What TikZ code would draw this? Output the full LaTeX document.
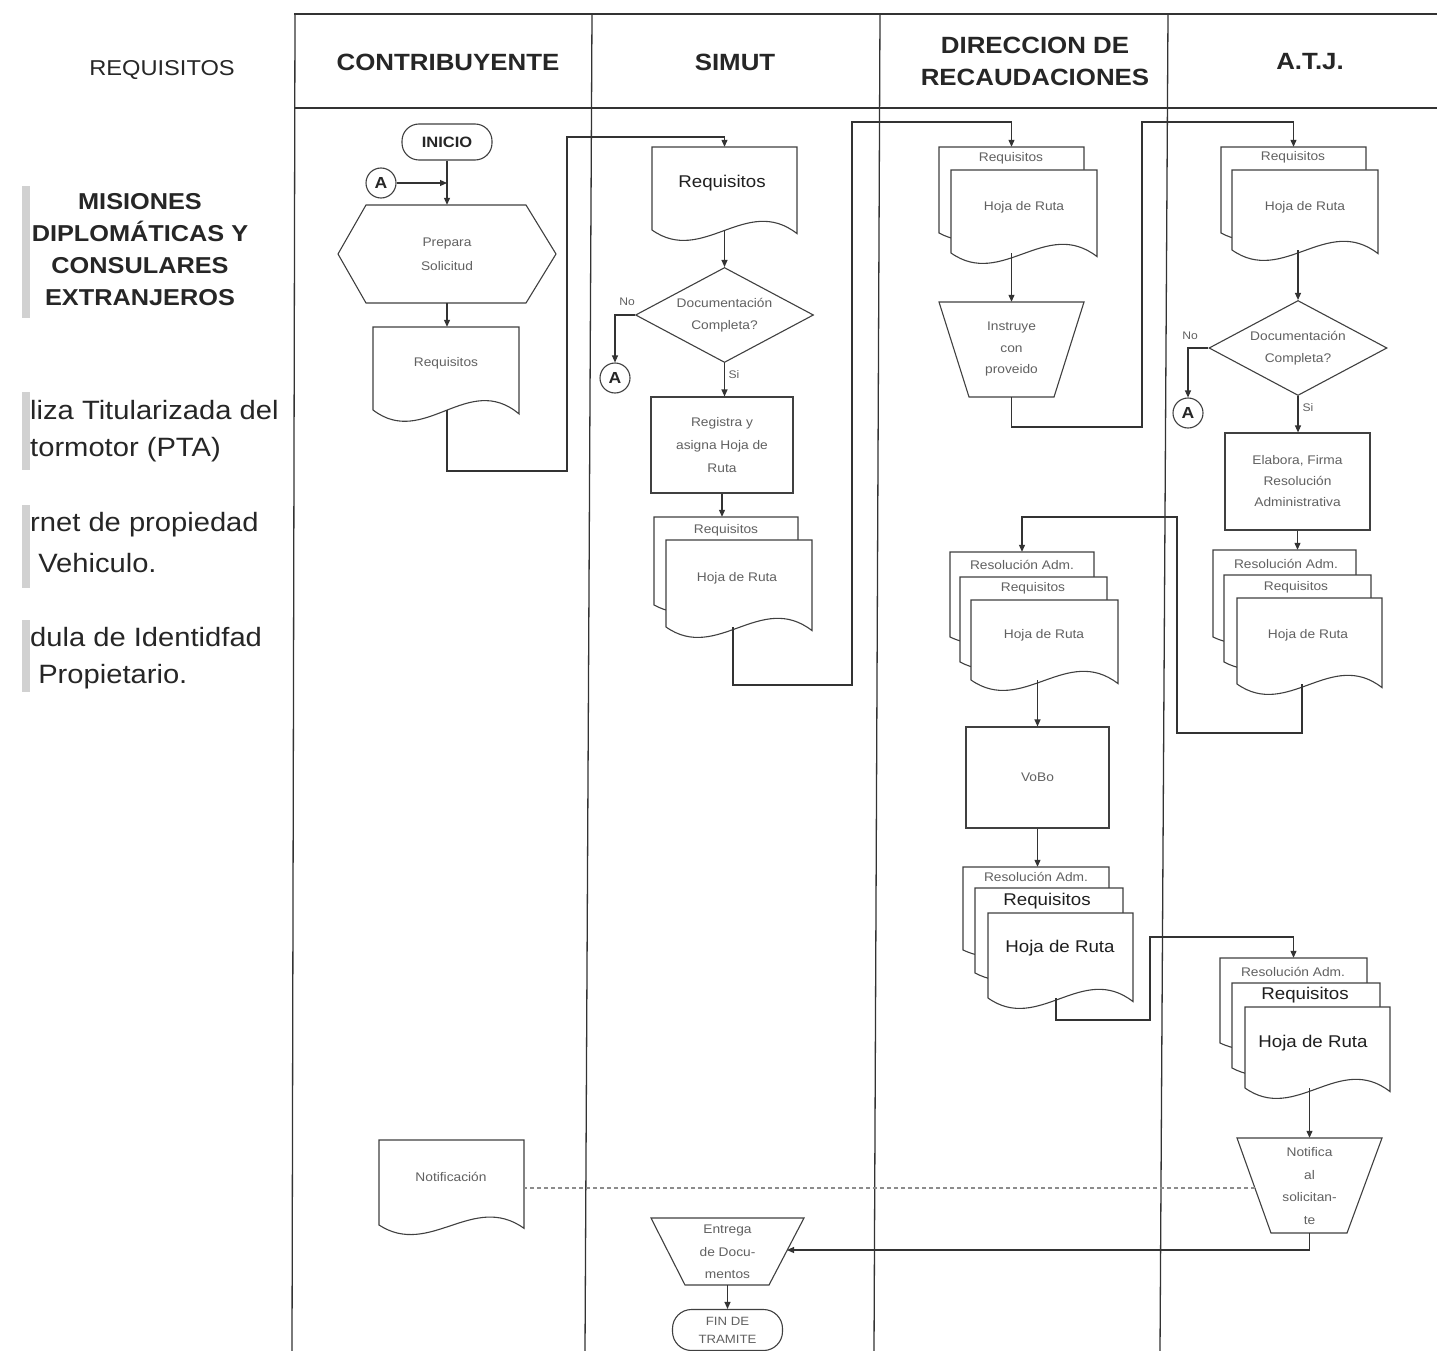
\documentclass[tikz,border=0pt]{standalone}
\usepackage{fontspec}
\setmainfont{Liberation Sans}[FakeStretch=1.1]
\usetikzlibrary{arrows.meta,fit,calc,shapes.geometric}

\tikzset{
  ln/.style={line width=1.1pt, draw=black!80},
  arr/.style={ln, -{Triangle[length=7pt,width=6pt]}},
  frm/.style={line width=1.3pt, draw=black!80},
  shp/.style={line width=1.1pt, draw=black!75, fill=white},
  dsh/.style={line width=1.1pt, draw=black!45, dash pattern=on 4pt off 3pt},
  sm/.style={font=\fontsize{12.5}{22}\selectfont, text=black!62, align=center, inner sep=0pt},
  md/.style={font=\fontsize{17}{20}\selectfont, text=black!88, inner sep=0pt},
  lbl/.style={font=\fontsize{11}{13}\selectfont, text=black!62, inner sep=0pt},
  hd/.style={font=\bfseries\fontsize{23.5}{32}\selectfont, text=black!85, align=center, inner sep=0pt},
  term/.style={shp, rounded corners=17pt, minimum width=90pt, minimum height=36pt, inner sep=0pt},
  conn/.style={shp, circle, minimum size=30pt, inner sep=0pt, font=\bfseries\fontsize{16}{18}\selectfont, text=black!85},
  dia/.style={shp, diamond, minimum width=178pt, minimum height=95pt, aspect=1.9, inner sep=0pt, sm},
  procbox/.style={shp, rectangle, minimum width=142pt, minimum height=96pt, inner sep=0pt, sm},
  lst/.style={font=\fontsize{26.5}{28}\selectfont, text=black!85, anchor=west, inner sep=0pt},
}

% document shape: name, x1, ytop, x2, ybottom(left), wave
\newcommand\docsh[6]{%
  \draw[shp] (#2,#3) -- (#4,#3) -- (#4,{#5+0.3*#6})
    .. controls ({#2+0.65*(#4-#2)},{#5-3*#6}) and ({#2+0.35*(#4-#2)},{#5+3*#6}) .. (#2,#5) -- cycle;
  \node[fit={(#2,#3) (#4,#5)}, inner sep=0pt] (#1) {};}

\begin{document}
\begin{tikzpicture}[x=1pt,y=-1pt]
\fill[white] (0,0) rectangle (1437,1351);
\useasboundingbox (0,0) rectangle (1437,1351);

% ---------- left column ----------
\fill[black!18] (22,186) rectangle (30,318);
\fill[black!18] (22,392) rectangle (30,470);
\fill[black!18] (22,505) rectangle (30,588);
\fill[black!18] (22,620) rectangle (30,692);
\node[font=\fontsize{21.5}{25}\selectfont, text=black!85, inner sep=0pt] (lreq) at (162,70) {REQUISITOS};
\node[font=\bfseries\fontsize{23}{32}\selectfont, text=black!85, align=center, inner sep=0pt] (lmis) at (140,250) {MISIONES\\DIPLOMÁTICAS Y\\CONSULARES\\EXTRANJEROS};
\node[lst] (l1) at (30,410) {liza Titularizada del};
\node[lst] (l2) at (30,450) {tormotor (PTA)};
\node[lst] (l3) at (30,525) {rnet de propiedad};
\node[lst] (l4) at (30,563) {\ Vehiculo.};
\node[lst] (l5) at (30,637) {dula de Identidfad};
\node[lst] (l6) at (30,677) {\ Propietario.};

% ---------- frame ----------
\draw[frm] (294,14) -- (1437,14);
\draw[frm] (294,108) -- (1437,108);
\draw[frm] (295,14) -- (292,1351);
\draw[frm] (592,14) -- (585,1351);
\draw[frm] (880,14) -- (874,1351);
\draw[frm] (1168,14) -- (1160,1351);
\node[hd] (hC) at (448,62) {CONTRIBUYENTE};
\node[hd] (hS) at (735,62) {SIMUT};
\node[hd] (hD) at (1035,61) {DIRECCION DE\\RECAUDACIONES};
\node[hd] (hA) at (1310,62) {A.T.J.};

% ---------- CONTRIBUYENTE ----------
\node[term, font=\bfseries\fontsize{15}{17}\selectfont, text=black!85] (inicio) at (447,142) {INICIO};
\node[conn] (cA1) at (381,183) {A};
\draw[shp] (338,254) -- (366,205) -- (526,205) -- (556,254) -- (526,303) -- (366,303) -- cycle;
\node[fit={(338,205) (556,303)}, inner sep=0pt] (hex) {};
\node[sm, font=\fontsize{12.5}{24}\selectfont] (thex) at (hex.center) {Prepara\\Solicitud};
\docsh{c1req}{373}{327}{519}{410}{13}
\node[sm] (tc1req) at (446,363) {Requisitos};
\draw[arr] (inicio.south) -- (hex.north);
\draw[arr] (cA1.east) -- (cA1.east -| hex.north);
\draw[arr] (hex.south) -- (hex.south |- c1req.north);

\docsh{notif}{379}{1140}{524}{1225}{11}
\node[sm] (tnotif) at (451,1177) {Notificación};

% ---------- SIMUT ----------
\docsh{s2req}{652}{147}{797}{230}{12}
\node[md] (ts2req) at (722,183) {Requisitos};
\node[dia] (dia1) at (724.5,315) {Documentación\\Completa?};
\node[lbl] (no1) at (627,302) {No};
\node[lbl] (si1) at (734,375) {Si};
\node[conn] (cA2) at (615,378) {A};
\node[procbox, font=\fontsize{12.5}{23}\selectfont] (reg) at (722,445) {Registra y\\asigna Hoja de\\Ruta};
\docsh{s2mdA}{654}{517}{798}{605}{9}
\docsh{s2mdB}{666}{540}{812}{627}{12}
\node[sm] (ts2a) at (726,530) {Requisitos};
\node[sm] (ts2b) at (737,578) {Hoja de Ruta};

\draw[arr] (hex.south |- c1req.south) -- (447,471) -| (567,137) -| (s2req.north);
\draw[arr] (s2req.south) -- (dia1.north);
\draw[arr] (dia1.west) -| (cA2.north);
\draw[arr] (dia1.south) -- (dia1.south |- reg.north);
\draw[arr] (reg.south) -- (reg.south |- s2mdA.north);

\draw[shp] (651,1218) -- (804,1218) -- (769,1285) -- (685,1285) -- cycle;
\node[fit={(651,1218) (804,1285)}, inner sep=0pt] (entr) {};
\node[sm, font=\fontsize{12.5}{22.5}\selectfont] (tentr) at (727.5,1252) {Entrega\\de Docu-\\mentos};
\coordinate (entrR) at (787,1250);
\node[term, minimum width=110pt, minimum height=41pt, rounded corners=19pt, sm, font=\fontsize{12}{18}\selectfont] (fin) at (727.5,1330) {FIN DE\\TRAMITE};
\draw[arr] (entr.south) -- (fin.north);

% ---------- DIRECCION ----------
\docsh{d3a}{939}{147}{1084}{233}{9}
\docsh{d3b}{951}{170}{1097}{253}{12}
\node[sm] (td3a) at (1011,158) {Requisitos};
\node[sm] (td3b) at (1024,207) {Hoja de Ruta};
\draw[shp] (939,302) -- (1084,302) -- (1054,397) -- (969,397) -- cycle;
\node[fit={(939,302) (1084,397)}, inner sep=0pt] (trap1) {};
\node[sm, font=\fontsize{12.5}{21.5}\selectfont] (ttrap1) at (1011.5,349) {Instruye\\con\\proveido};
\draw[arr] (trap1.north |- d3b.south) -- (trap1.north);
\draw[arr] ([xshift=-6pt]s2mdB.south) -- (733,685) -| (852,122) -| (d3a.north);

\docsh{d3cA}{950}{552}{1094}{637}{8}
\docsh{d3cB}{960}{577}{1107}{662}{9}
\docsh{d3cC}{971}{600}{1118}{680}{12}
\node[sm] (td3cA) at (1022,565) {Resolución Adm.};
\node[sm] (td3cB) at (1033,588) {Requisitos};
\node[sm] (td3cC) at (1044,635) {Hoja de Ruta};
\node[procbox, minimum width=143pt, minimum height=101pt] (vobo) at (1037.5,777.5) {VoBo};
\draw[arr] (vobo.north |- d3cC.south) -- (vobo.north);

\docsh{d3eA}{963}{867}{1109}{950}{8}
\docsh{d3eB}{975}{888}{1123}{973}{9}
\docsh{d3eC}{988}{913}{1133}{998}{12}
\node[sm] (td3eA) at (1036,877) {Resolución Adm.};
\node[md] (td3eB) at (1047,901) {Requisitos};
\node[md] (td3eC) at (1060,948) {Hoja de Ruta};
\draw[arr] (vobo.south) -- (vobo.south |- d3eA.north);

% ---------- A.T.J. ----------
\docsh{a4a}{1221}{147}{1366}{233}{9}
\docsh{a4b}{1232}{170}{1378}{250}{12}
\node[sm] (ta4a) at (1293,157) {Requisitos};
\node[sm] (ta4b) at (1305,207) {Hoja de Ruta};
\draw[arr] (trap1.south) -- (1011.5,427) -| (1142,122) -| (a4a.north);
\node[dia] (dia2) at (1298,348) {Documentación\\Completa?};
\draw[arr] (dia2.north |- a4b.south) -- (dia2.north);
\node[lbl] (no2) at (1190,336) {No};
\node[lbl] (si2) at (1308,408) {Si};
\node[conn] (cA3) at (1188,413) {A};
\draw[arr] (dia2.west) -| (cA3.north);
\node[procbox, minimum width=145pt, minimum height=97pt, font=\fontsize{12.5}{21}\selectfont] (elab) at (1297.5,481.5) {Elabora, Firma\\Resolución\\Administrativa};
\draw[arr] (dia2.south) -- (dia2.south |- elab.north);

\docsh{a4cA}{1213}{550}{1356}{637}{8}
\docsh{a4cB}{1224}{575}{1371}{662}{9}
\docsh{a4cC}{1237}{598}{1382}{684}{12}
\node[sm] (ta4cA) at (1286,564) {Resolución Adm.};
\node[sm] (ta4cB) at (1296,587) {Requisitos};
\node[sm] (ta4cC) at (1308,635) {Hoja de Ruta};
\draw[arr] (elab.south) -- (elab.south |- a4cA.north);
\draw[arr] ([xshift=-7.5pt]a4cC.south) -- (1302,733) -| (1177,517) -| (d3cA.north);

\docsh{a4eA}{1220}{958}{1367}{1043}{8}
\docsh{a4eB}{1232}{983}{1380}{1068}{9}
\docsh{a4eC}{1245}{1007}{1390}{1088}{12}
\node[sm] (ta4eA) at (1293,972) {Resolución Adm.};
\node[md] (ta4eB) at (1305,995) {Requisitos};
\node[md] (ta4eC) at (1313,1043) {Hoja de Ruta};
\draw[arr] ([xshift=-4.5pt]d3eC.south) -- (1056,1020) -| (1150,937) -| (a4eA.north);

\draw[shp] (1237,1138) -- (1382,1138) -- (1347,1233) -- (1271,1233) -- cycle;
\node[fit={(1237,1138) (1382,1233)}, inner sep=0pt] (trap2) {};
\node[sm, font=\fontsize{12.5}{22.7}\selectfont] (ttrap2) at (1309.5,1186) {Notifica\\al\\solicitan-\\te};
\draw[arr] (trap2.north |- a4eC.south) -- (trap2.north);
\coordinate (t2w) at (1255,1188);
\draw[dsh] (t2w) -- (t2w -| notif.east);
\draw[arr] (trap2.south) -- (1309.5,1250) -- (entrR);
\end{tikzpicture}
\end{document}
